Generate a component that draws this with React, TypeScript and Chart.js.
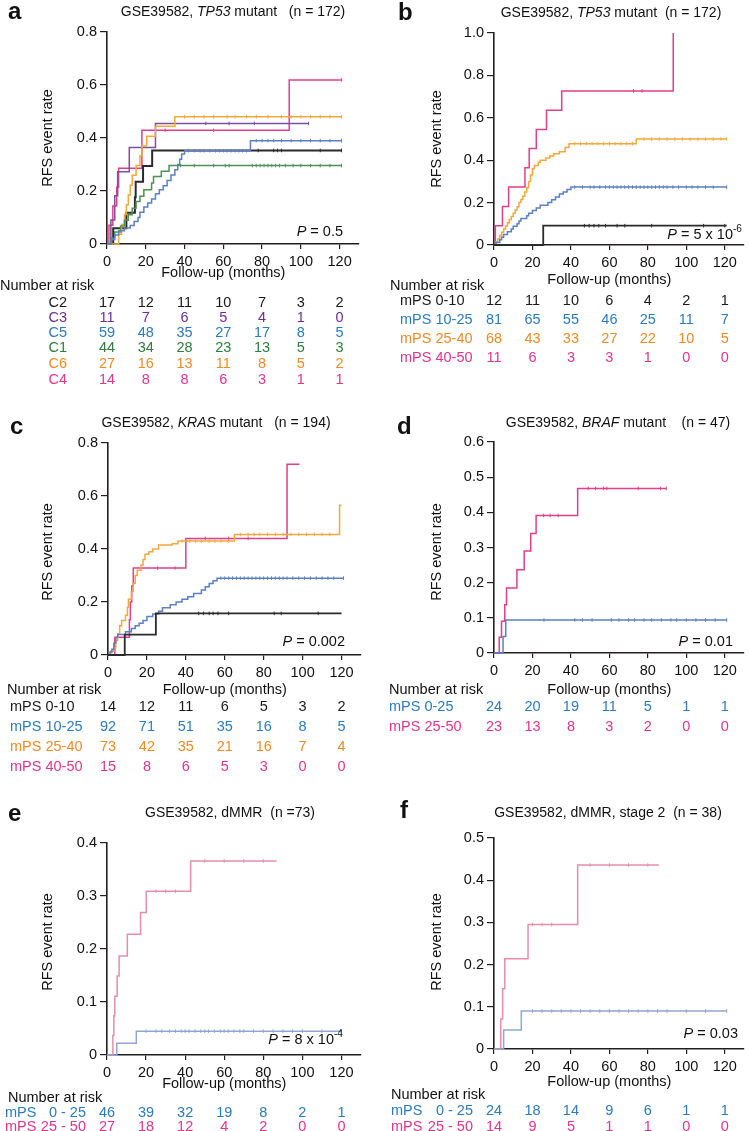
import React, { useEffect, useRef } from 'react';
import { Chart, registerables } from 'chart.js';

Chart.register(...registerables);

const FONT = "'Liberation Sans', Arial, Helvetica, sans-serif";

// ---------- shared ----------
const riskTimes = [0, 20, 40, 60, 80, 100, 120];
const xTickValues = [0, 20, 40, 60, 80, 100, 120];

// ---------- panel a : TP53 mutant, CMS-like groups ----------
const aYTicks = [0, 0.2, 0.4, 0.6, 0.8];
const aC2Times = [3.2, 10, 14.4, 14.8, 18.6, 23.3];
const aC2Values = [0.059, 0.118, 0.176, 0.235, 0.294, 0.353];
const aC2Censor = [78, 86, 88, 90, 110, 121];
const aC3Times = [2, 4, 5.5, 11.5, 25];
const aC3Values = [0.091, 0.182, 0.273, 0.364, 0.455];
const aC3Censor = [51, 63, 76, 104];
const aC5Times = [2, 4, 6, 9, 12, 14, 16, 17, 19, 21, 23, 25, 27, 29, 31, 33, 35, 36.5, 37.5, 38.5, 40, 74];
const aC5Values = [0.017, 0.034, 0.05, 0.06, 0.07, 0.085, 0.1, 0.12, 0.14, 0.155, 0.17, 0.19, 0.205, 0.22, 0.24, 0.26, 0.28, 0.3, 0.32, 0.34, 0.352, 0.39];
const aC5Censor = [42, 45, 48, 50, 53, 56, 58, 60, 62, 64, 66, 68, 70, 72, 77, 80, 83, 86, 90, 95, 100, 105, 110, 115, 121];
const aC1Times = [2, 4, 7, 9, 11, 13, 15, 17, 19, 23, 24, 28, 32];
const aC1Values = [0.023, 0.045, 0.068, 0.09, 0.11, 0.135, 0.16, 0.18, 0.205, 0.23, 0.255, 0.275, 0.296];
const aC1Censor = [38, 45, 55, 61, 63, 75, 77, 79, 81, 83, 85, 87, 89, 92, 96, 100, 105, 110, 115, 121];
const aC6Times = [6, 7.5, 9, 10, 11, 12, 13, 15, 17, 18, 20.5, 25, 35];
const aC6Values = [0.037, 0.074, 0.111, 0.148, 0.185, 0.222, 0.259, 0.296, 0.333, 0.37, 0.407, 0.444, 0.48];
const aC6Censor = [40, 45, 50, 55, 62, 66, 72, 77, 83, 90, 95, 100, 105, 110, 115, 121];
const aC4Times = [1, 3, 5, 6, 18, 94];
const aC4Values = [0.071, 0.143, 0.214, 0.286, 0.429, 0.619];
const aC4Censor = [30, 55, 121];
const aRiskC2 = [17, 12, 11, 10, 7, 3, 2];
const aRiskC3 = [11, 7, 6, 5, 4, 1, 0];
const aRiskC5 = [59, 48, 35, 27, 17, 8, 5];
const aRiskC1 = [44, 34, 28, 23, 13, 5, 3];
const aRiskC6 = [27, 16, 13, 11, 8, 5, 2];
const aRiskC4 = [14, 8, 8, 6, 3, 1, 1];

// ---------- panel b : TP53 mutant, mPS groups ----------
const bYTicks = [0, 0.2, 0.4, 0.6, 0.8, 1.0];
const b0Times = [25.6];
const b0Values = [0.091];
const b0Censor = [47, 49.5, 52, 54.5, 58, 64, 68, 82, 109, 120];
const b10Times = [1, 3, 4, 5, 7, 9, 10, 12, 13, 14, 17, 18, 20, 22, 24, 28, 30, 32, 34, 36, 38, 40];
const b10Values = [0.012, 0.025, 0.037, 0.05, 0.062, 0.075, 0.088, 0.1, 0.113, 0.125, 0.138, 0.15, 0.163, 0.175, 0.188, 0.2, 0.213, 0.226, 0.24, 0.25, 0.262, 0.273];
const b10Censor = [42, 46, 50, 52, 55, 58, 60, 62, 64, 66, 68, 70, 72, 74, 76, 78, 80, 82, 84, 86, 88, 90, 93, 96, 100, 103, 106, 110, 114, 121];
const b25Times = [1, 2, 3, 4, 5, 6, 7, 8, 9, 10, 11, 12, 13, 14, 15, 16, 17, 18, 19, 20, 21, 23, 24, 27, 29, 31, 34, 37, 39, 74];
const b25Values = [0.015, 0.03, 0.045, 0.06, 0.075, 0.09, 0.105, 0.12, 0.135, 0.15, 0.165, 0.18, 0.2, 0.215, 0.23, 0.25, 0.27, 0.3, 0.33, 0.36, 0.375, 0.39, 0.4, 0.41, 0.42, 0.43, 0.44, 0.46, 0.478, 0.5];
const b25Censor = [42, 45, 48, 51, 54, 57, 60, 63, 66, 69, 72, 78, 82, 86, 90, 94, 98, 102, 106, 110, 114, 118, 121];
const b40Times = [0.7, 4.4, 7.6, 16.1, 18.3, 22, 27.3, 35.2, 93.2];
const b40Values = [0.091, 0.182, 0.273, 0.364, 0.455, 0.545, 0.636, 0.727, 1.0];
const b40Censor = [72.5, 77];
const bRisk0 = [12, 11, 10, 6, 4, 2, 1];
const bRisk10 = [81, 65, 55, 46, 25, 11, 7];
const bRisk25 = [68, 43, 33, 27, 22, 10, 5];
const bRisk40 = [11, 6, 3, 3, 1, 0, 0];

// ---------- panel c : KRAS mutant ----------
const cYTicks = [0, 0.2, 0.4, 0.6, 0.8];
const c0Times = [8.6, 24.6];
const c0Values = [0.077, 0.157];
const c0Censor = [46.6, 49, 52, 54, 56.5, 62, 85.4, 89, 108];
const c10Times = [1, 2, 3, 4, 5, 9, 12, 14, 16, 18, 20, 23, 26, 28, 32, 35, 38, 41, 44, 48, 50, 52, 54, 56];
const c10Values = [0.011, 0.022, 0.044, 0.066, 0.077, 0.088, 0.1, 0.11, 0.12, 0.13, 0.145, 0.155, 0.165, 0.178, 0.19, 0.2, 0.21, 0.22, 0.232, 0.245, 0.258, 0.27, 0.28, 0.29];
const c10Censor = [58, 60, 62, 64, 66, 68, 70, 72, 74, 76, 78, 80, 82, 84, 86, 88, 90, 92, 95, 98, 101, 104, 107, 110, 113, 116, 121];
const c25Times = [1.5, 3, 4, 5, 6, 7, 9, 10, 10.5, 12, 13, 14, 15, 17, 18, 19, 21, 23, 26, 33, 36, 65, 119];
const c25Values = [0.014, 0.027, 0.055, 0.08, 0.11, 0.13, 0.15, 0.18, 0.21, 0.24, 0.27, 0.3, 0.32, 0.34, 0.36, 0.38, 0.39, 0.4, 0.415, 0.42, 0.43, 0.455, 0.565];
const c25Censor = [38, 42, 45, 48, 52, 55, 58, 62, 68, 72, 75, 78, 82, 86, 90, 94, 98, 102, 106, 110, 114];
const c40Times = [3.5, 11, 11.5, 12.2, 13, 40, 92];
const c40Values = [0.067, 0.133, 0.2, 0.26, 0.328, 0.44, 0.72];
const c40Censor = [25.5, 34.4, 50, 62, 72];
const cRisk0 = [14, 12, 11, 6, 5, 3, 2];
const cRisk10 = [92, 71, 51, 35, 16, 8, 5];
const cRisk25 = [73, 42, 35, 21, 16, 7, 4];
const cRisk40 = [15, 8, 6, 5, 3, 0, 0];

// ---------- panel d : BRAF mutant ----------
const dYTicks = [0, 0.1, 0.2, 0.3, 0.4, 0.5, 0.6];
const d0Times = [4.7, 6.1];
const d0Values = [0.047, 0.094];
const d0Censor = [26, 42, 46, 51, 61, 65, 70, 73, 78, 82, 87, 92, 95, 100, 105, 110, 115, 121];
const d25Times = [2.7, 3.9, 5.6, 6.5, 11.9, 15.7, 19.1, 21.9, 43.5];
const d25Values = [0.045, 0.09, 0.137, 0.185, 0.237, 0.29, 0.34, 0.391, 0.468];
const d25Censor = [25.8, 29.2, 33.4, 49, 52.8, 57, 58.7, 75, 86.6, 89.6];
const dRisk0 = [24, 20, 19, 11, 5, 1, 1];
const dRisk25 = [23, 13, 8, 3, 2, 0, 0];

// ---------- panel e : dMMR ----------
const eYTicks = [0, 0.1, 0.2, 0.3, 0.4];
const e0Times = [5, 15];
const e0Values = [0.022, 0.045];
const e0Censor = [20, 25, 28, 32, 35, 38, 40, 42, 45, 48, 50, 52, 55, 58, 60, 62, 65, 68, 70, 75, 80, 85, 90, 95, 100, 110, 120];
const e25Times = [3, 3.5, 4, 5.2, 6.2, 10.4, 17.2, 20.1, 42.8];
const e25Values = [0.037, 0.074, 0.111, 0.149, 0.187, 0.228, 0.269, 0.309, 0.366];
const e25Censor = [25, 30, 35, 50, 60, 70, 80];
const eRisk0 = [46, 39, 32, 19, 8, 2, 1];
const eRisk25 = [27, 18, 12, 4, 2, 0, 0];

// ---------- panel f : dMMR stage 2 ----------
const fYTicks = [0, 0.1, 0.2, 0.3, 0.4, 0.5];
const f0Times = [5, 14.2];
const f0Values = [0.045, 0.09];
const f0Censor = [20, 25, 30, 35, 40, 45, 50, 55, 60, 65, 70, 75, 80, 85, 90, 100, 110, 121];
const f25Times = [3.5, 4.5, 5.6, 17.7, 43.5];
const f25Values = [0.071, 0.143, 0.214, 0.295, 0.436];
const f25Censor = [20, 25, 30, 50, 60, 70, 80];
const fRisk0 = [24, 18, 14, 9, 6, 1, 1];
const fRisk25 = [14, 9, 5, 1, 1, 0, 0];

// ---------- colours ----------
const L = {
  black: '#2b2b2b', purple: '#7c4f9f', blue: '#5b80c3', green: '#4d9157',
  orange: '#f3a83c', pink: '#e33e8c', paleBlue: '#91a6d0', palePink: '#e68dad',
};
const T = {
  black: '#1a1a1a', purple: '#6c2f91', blue: '#2b7bbf', green: '#2d7d3c',
  orange: '#f08a24', pink: '#e3348c',
};

type Curve = { times: number[]; values: number[]; end: number; censor: number[]; color: string; width: number };
type Seg = { t: string; italic?: boolean; sup?: boolean };
type Row = { label: string; range?: string; color: string; y: number; values: number[] };

const curve = (times: number[], values: number[], end: number, censor: number[], color: string, width = 1.5): Curve =>
  ({ times, values, end, censor, color, width });

const gene = (name: string, rest: string): Seg[] => [{ t: 'GSE39582, ' }, { t: name, italic: true }, { t: rest }];

const panels = [
  {
    key: 'a', letter: 'a', left: 0, top: 0, width: 375, height: 385,
    axisX: 107, plotTop: 32, plotBottom: 244, plotRight: 359, yTicks: aYTicks,
    curves: [
      curve(aC5Times, aC5Values, 121, aC5Censor, L.blue),
      curve(aC1Times, aC1Values, 121, aC1Censor, L.green),
      curve(aC6Times, aC6Values, 121, aC6Censor, L.orange),
      curve(aC3Times, aC3Values, 104, aC3Censor, L.purple),
      curve(aC2Times, aC2Values, 121, aC2Censor, L.black, 2),
      curve(aC4Times, aC4Values, 121, aC4Censor, L.pink),
    ],
    letterX: 8, letterY: 12, title: gene('TP53', ' mutant   (n = 172)'), titleX: 233, titleY: 12,
    yTitleX: 48, yTitleY: 138,
    pText: [{ t: 'P', italic: true }, { t: ' = 0.5' }] as Seg[], pX: 343, pY: 232,
    followY: 273, narX: 0, narY: 286, labelAlign: 'right', labelX: 67, rangeRight: 0,
    rows: [
      { label: 'C2', color: T.black, y: 303, values: aRiskC2 },
      { label: 'C3', color: T.purple, y: 318, values: aRiskC3 },
      { label: 'C5', color: T.blue, y: 333, values: aRiskC5 },
      { label: 'C1', color: T.green, y: 348, values: aRiskC1 },
      { label: 'C6', color: T.orange, y: 364, values: aRiskC6 },
      { label: 'C4', color: T.pink, y: 380, values: aRiskC4 },
    ] as Row[],
  },
  {
    key: 'b', letter: 'b', left: 375, top: 0, width: 374, height: 385,
    axisX: 494, plotTop: 33, plotBottom: 245, plotRight: 748, yTicks: bYTicks,
    curves: [
      curve(b0Times, b0Values, 121, b0Censor, L.black, 1.8),
      curve(b10Times, b10Values, 121, b10Censor, L.blue),
      curve(b25Times, b25Values, 121, b25Censor, L.orange),
      curve(b40Times, b40Values, 93.2, b40Censor, L.pink),
    ],
    letterX: 398, letterY: 13, title: gene('TP53', ' mutant  (n = 172)'), titleX: 611, titleY: 13,
    yTitleX: 437, yTitleY: 139,
    pText: [{ t: 'P', italic: true }, { t: ' = 5 x 10' }, { t: '-6', sup: true }] as Seg[], pX: 742, pY: 235,
    followY: 280, narX: 390, narY: 286, labelAlign: 'left', labelX: 400, rangeRight: 0,
    rows: [
      { label: 'mPS 0-10', color: T.black, y: 301, values: bRisk0 },
      { label: 'mPS 10-25', color: T.blue, y: 320, values: bRisk10 },
      { label: 'mPS 25-40', color: T.orange, y: 339, values: bRisk25 },
      { label: 'mPS 40-50', color: T.pink, y: 358, values: bRisk40 },
    ] as Row[],
  },
  {
    key: 'c', letter: 'c', left: 0, top: 385, width: 375, height: 395,
    axisX: 108, plotTop: 443, plotBottom: 655, plotRight: 361, yTicks: cYTicks,
    curves: [
      curve(c0Times, c0Values, 120, c0Censor, L.black, 1.8),
      curve(c10Times, c10Values, 121, c10Censor, L.blue),
      curve(c25Times, c25Values, 120, c25Censor, L.orange),
      curve(c40Times, c40Values, 98.4, c40Censor, L.pink),
    ],
    letterX: 10, letterY: 427, title: gene('KRAS', ' mutant   (n = 194)'), titleX: 216, titleY: 423,
    yTitleX: 48, yTitleY: 552,
    pText: [{ t: 'P', italic: true }, { t: ' = 0.002' }] as Seg[], pX: 345, pY: 642,
    followY: 690, narX: 7, narY: 690, labelAlign: 'left', labelX: 10, rangeRight: 0,
    rows: [
      { label: 'mPS 0-10', color: T.black, y: 707, values: cRisk0 },
      { label: 'mPS 10-25', color: T.blue, y: 727, values: cRisk10 },
      { label: 'mPS 25-40', color: T.orange, y: 747, values: cRisk25 },
      { label: 'mPS 40-50', color: T.pink, y: 767, values: cRisk40 },
    ] as Row[],
  },
  {
    key: 'd', letter: 'd', left: 375, top: 385, width: 374, height: 395,
    axisX: 494, plotTop: 442, plotBottom: 653, plotRight: 748, yTicks: dYTicks,
    curves: [
      curve(d0Times, d0Values, 121, d0Censor, L.blue),
      curve(d25Times, d25Values, 89.6, d25Censor, L.pink),
    ],
    letterX: 397, letterY: 427, title: gene('BRAF', ' mutant    (n = 47)'), titleX: 618, titleY: 423,
    yTitleX: 437, yTitleY: 552,
    pText: [{ t: 'P', italic: true }, { t: ' = 0.01' }] as Seg[], pX: 733, pY: 642,
    followY: 690, narX: 389, narY: 690, labelAlign: 'left', labelX: 389, rangeRight: 0,
    rows: [
      { label: 'mPS 0-25', color: T.blue, y: 707, values: dRisk0 },
      { label: 'mPS 25-50', color: T.pink, y: 727, values: dRisk25 },
    ] as Row[],
  },
  {
    key: 'e', letter: 'e', left: 0, top: 780, width: 375, height: 351,
    axisX: 107, plotTop: 843, plotBottom: 1055, plotRight: 361, yTicks: eYTicks,
    curves: [
      curve(e0Times, e0Values, 120, e0Censor, L.paleBlue),
      curve(e25Times, e25Values, 86.8, e25Censor, L.palePink),
    ],
    letterX: 8, letterY: 814, title: [{ t: 'GSE39582, dMMR  (n =73)' }] as Seg[], titleX: 230, titleY: 813,
    yTitleX: 48, yTitleY: 942,
    pText: [{ t: 'P', italic: true }, { t: ' = 8 x 10' }, { t: '-4', sup: true }] as Seg[], pX: 343, pY: 1040,
    followY: 1084, narX: 8, narY: 1098, labelAlign: 'split', labelX: 5, rangeRight: 86,
    rows: [
      { label: 'mPS', range: '0 - 25', color: T.blue, y: 1113, values: eRisk0 },
      { label: 'mPS', range: '25 - 50', color: T.pink, y: 1127, values: eRisk25 },
    ] as Row[],
  },
  {
    key: 'f', letter: 'f', left: 375, top: 780, width: 374, height: 351,
    axisX: 494, plotTop: 838, plotBottom: 1049, plotRight: 748, yTicks: fYTicks,
    curves: [
      curve(f0Times, f0Values, 121, f0Censor, L.paleBlue),
      curve(f25Times, f25Values, 85.7, f25Censor, L.palePink),
    ],
    letterX: 400, letterY: 811, title: [{ t: 'GSE39582, dMMR, stage 2  (n = 38)' }] as Seg[], titleX: 608, titleY: 813,
    yTitleX: 437, yTitleY: 942,
    pText: [{ t: 'P', italic: true }, { t: ' = 0.03' }] as Seg[], pX: 738, pY: 1034,
    followY: 1082, narX: 391, narY: 1095, labelAlign: 'split', labelX: 391, rangeRight: 473,
    rows: [
      { label: 'mPS', range: '0 - 25', color: T.blue, y: 1111, values: fRisk0 },
      { label: 'mPS', range: '25 - 50', color: T.pink, y: 1127, values: fRisk25 },
    ] as Row[],
  },
];

function valueAt(c: Curve, t: number) {
  let v = 0;
  for (let i = 0; i < c.times.length; i++) if (c.times[i] <= t) v = c.values[i];
  return v;
}

function segFont(s: Seg, size: number) {
  const sz = s.sup ? size * 0.7 : size;
  return `${s.italic ? 'italic ' : ''}${sz}px ${FONT}`;
}

function drawSegs(ctx: CanvasRenderingContext2D, segs: Seg[], x: number, y: number, align: string, size: number) {
  let total = 0;
  const widths = segs.map((s) => { ctx.font = segFont(s, size); const w = ctx.measureText(s.t).width; total += w; return w; });
  let cx = align === 'center' ? x - total / 2 : align === 'right' ? x - total : x;
  ctx.textAlign = 'left';
  segs.forEach((s, i) => {
    ctx.font = segFont(s, size);
    ctx.fillText(s.t, cx, s.sup ? y - size * 0.4 : y);
    cx += widths[i];
  });
}

function drawPanelText(chart: any, p: any) {
  const ctx: CanvasRenderingContext2D = chart.ctx;
  const ox = p.left, oy = p.top;
  const xs = chart.scales.x;
  ctx.save();
  ctx.textBaseline = 'middle';
  ctx.fillStyle = '#111';
  ctx.textAlign = 'left';
  ctx.font = `bold 24px ${FONT}`;
  ctx.fillText(p.letter, p.letterX - ox, p.letterY - oy);
  drawSegs(ctx, p.title, p.titleX - ox, p.titleY - oy, 'center', 14);
  ctx.save();
  ctx.translate(p.yTitleX - ox, p.yTitleY - oy);
  ctx.rotate(-Math.PI / 2);
  ctx.font = `14.5px ${FONT}`;
  ctx.textAlign = 'center';
  ctx.fillText('RFS event rate', 0, 0);
  ctx.restore();
  drawSegs(ctx, p.pText, p.pX - ox, p.pY - oy, 'right', 14.5);
  ctx.font = `14.5px ${FONT}`;
  ctx.textAlign = 'center';
  ctx.fillText('Follow-up (months)', xs.getPixelForValue(60), p.followY - oy);
  ctx.textAlign = 'left';
  ctx.fillText('Number at risk', p.narX - ox, p.narY - oy);
  p.rows.forEach((r: Row) => {
    ctx.fillStyle = r.color;
    if (p.labelAlign === 'split') {
      ctx.textAlign = 'left';
      ctx.fillText(r.label, p.labelX - ox, r.y - oy);
      ctx.textAlign = 'right';
      ctx.fillText(r.range || '', p.rangeRight - ox, r.y - oy);
    } else {
      ctx.textAlign = p.labelAlign;
      ctx.fillText(r.label, p.labelX - ox, r.y - oy);
    }
    ctx.textAlign = 'center';
    r.values.forEach((v, i) => ctx.fillText(String(v), xs.getPixelForValue(riskTimes[i]), r.y - oy));
  });
  ctx.restore();
}

function Panel({ p }: { p: any }) {
  const ref = useRef<HTMLCanvasElement>(null);
  useEffect(() => {
    const datasets: any[] = [];
    p.curves.forEach((c: Curve) => {
      const pts = [{ x: 0, y: 0 }, ...c.times.map((t, i) => ({ x: t, y: c.values[i] })), { x: c.end, y: c.values[c.values.length - 1] }];
      datasets.push({
        data: pts, showLine: true, stepped: 'before', borderColor: c.color, borderWidth: c.width,
        pointRadius: 0, fill: false, clip: 4,
      });
      datasets.push({
        data: c.censor.map((t) => ({ x: t, y: valueAt(c, t) })), showLine: false,
        pointStyle: 'line', pointRotation: 90, pointRadius: 1.8, pointBorderColor: c.color,
        pointBorderWidth: 1, pointBackgroundColor: c.color, clip: 4,
      });
    });
    const chart = new Chart(ref.current as HTMLCanvasElement, {
      type: 'scatter',
      data: { datasets },
      options: {
        animation: false, responsive: false, devicePixelRatio: 1, events: [],
        layout: { padding: { left: 0, top: p.plotTop - p.top, right: p.left + p.width - p.plotRight, bottom: 0 } },
        plugins: { legend: { display: false }, tooltip: { enabled: false }, title: { display: false } },
        scales: {
          x: {
            type: 'linear', min: 0, max: 130,
            afterBuildTicks: (s: any) => { s.ticks = xTickValues.map((v) => ({ value: v })); },
            afterFit: (s: any) => { s.height = p.top + p.height - p.plotBottom; },
            grid: { display: true, drawOnChartArea: false, drawTicks: true, tickLength: 5, color: '#231f20', lineWidth: 1.2 },
            border: { display: true, color: '#231f20', width: 1.6 },
            ticks: { color: '#111', font: { size: 14.5, family: FONT }, padding: 4, maxRotation: 0, autoSkip: false },
          },
          y: {
            type: 'linear', min: 0, max: p.yTicks[p.yTicks.length - 1],
            afterBuildTicks: (s: any) => { s.ticks = p.yTicks.map((v: number) => ({ value: v })); },
            afterFit: (s: any) => { s.width = p.axisX - p.left; },
            grid: { display: true, drawOnChartArea: false, drawTicks: true, tickLength: 7, color: '#231f20', lineWidth: 1.2 },
            border: { display: true, color: '#231f20', width: 1.6 },
            ticks: {
              color: '#111', font: { size: 14.5, family: FONT }, padding: 3, autoSkip: false,
              callback: (v: any) => (Number(v) === 0 ? '0' : Number(v).toFixed(1)),
            },
          },
        },
      } as any,
      plugins: [{ id: 'panelText' + p.key, afterDraw: (ch: any) => drawPanelText(ch, p) }],
    });
    return () => chart.destroy();
  }, []);
  return (
    <canvas
      ref={ref}
      width={p.width}
      height={p.height}
      style={{ position: 'absolute', left: p.left, top: p.top, width: p.width, height: p.height }}
    />
  );
}

export default function App() {
  return (
    <div style={{ position: 'absolute', left: 0, top: 0, width: 749, height: 1131, background: '#fff', overflow: 'hidden' }}>
      {panels.map((p) => <Panel key={p.key} p={p} />)}
    </div>
  );
}
